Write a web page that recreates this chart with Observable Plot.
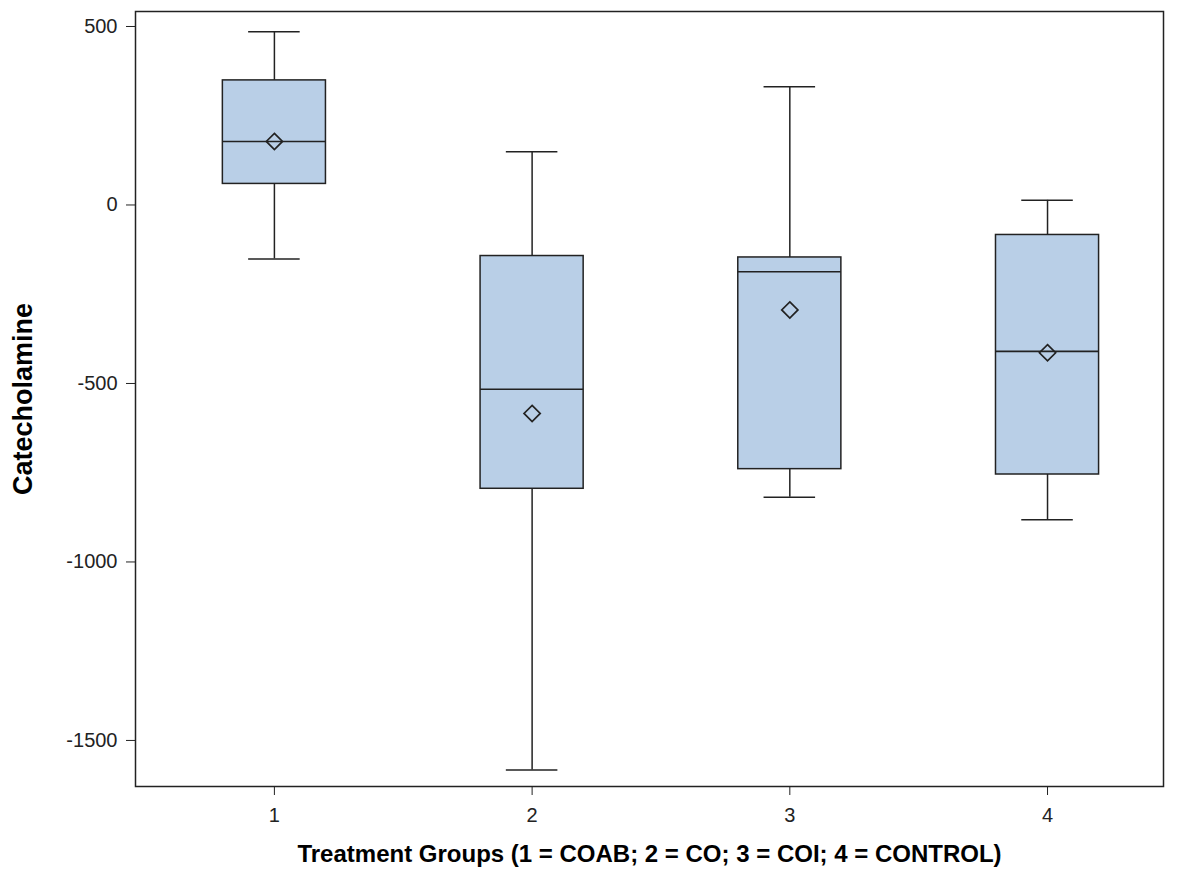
<!DOCTYPE html>
<html><head><meta charset="utf-8">
<script src="https://cdn.jsdelivr.net/npm/d3@7"></script>
<script src="https://cdn.jsdelivr.net/npm/@observablehq/plot@0.6"></script>
<style>body{margin:0;background:#fff}#chart svg{display:block}</style>
</head><body><div id="chart"></div>
<script>
const groups = [1, 2, 3, 4];
const whiskerHigh = [485, 149, 331, 13];
const q3 = [349, -143, -147, -84];
const median = [178, -516, -187, -410];
const mean = [178, -584, -294, -414];
const q1 = [59, -795, -740, -755];
const whiskerLow = [-151, -1583, -819, -882];
const yTicks = [500, 0, -500, -1000, -1500];
const xTicks = [1, 2, 3, 4];
const yLabel = "Catecholamine";
const xLabel = "Treatment Groups (1 = COAB; 2 = CO; 3 = COI; 4 = CONTROL)";

const data = groups.map((g, i) => ({
  g, hi: whiskerHigh[i], q3: q3[i], med: median[i], mean: mean[i], q1: q1[i], lo: whiskerLow[i]
}));

const boxHalf = 0.2, capHalf = 0.1;
const ink = "#222";
const font = "'Liberation Sans', Arial, sans-serif";

const chart = Plot.plot({
  width: 1177,
  height: 869,
  marginLeft: 135,
  marginRight: 14,
  marginTop: 11,
  marginBottom: 83,
  style: {fontFamily: font, background: "#fff", color: ink},
  x: {type: "linear", domain: [0.461, 4.45], ticks: xTicks, label: null},
  y: {domain: [-1629, 542], ticks: yTicks, label: null},
  marks: [
    Plot.ruleX(data, {x: "g", y1: "q3", y2: "hi", stroke: ink, strokeWidth: 1.5}),
    Plot.ruleX(data, {x: "g", y1: "lo", y2: "q1", stroke: ink, strokeWidth: 1.5}),
    Plot.ruleY(data, {y: "hi", x1: d => d.g - capHalf, x2: d => d.g + capHalf, stroke: ink, strokeWidth: 1.5}),
    Plot.ruleY(data, {y: "lo", x1: d => d.g - capHalf, x2: d => d.g + capHalf, stroke: ink, strokeWidth: 1.5}),
    Plot.rect(data, {x1: d => d.g - boxHalf, x2: d => d.g + boxHalf, y1: "q1", y2: "q3", fill: "#b9cfe7", stroke: ink, strokeWidth: 1.5}),
    Plot.ruleY(data, {y: "med", x1: d => d.g - boxHalf, x2: d => d.g + boxHalf, stroke: ink, strokeWidth: 1.6}),
    Plot.dot(data, {x: "g", y: "mean", symbol: "diamond2", r: 7.3, stroke: ink, strokeWidth: 1.7, fill: "none"}),
    Plot.frame({stroke: ink, strokeWidth: 1.5}),
    Plot.axisY({ticks: yTicks, tickFormat: d => String(d), tickSize: 9, tickPadding: 9, fontSize: 20, stroke: ink, label: null}),
    Plot.axisX({ticks: xTicks, tickFormat: d => String(d), tickSize: 9, tickPadding: 12, fontSize: 20, stroke: ink, label: null}),
    Plot.text([yLabel], {frameAnchor: "left", dx: -112, rotate: -90, fontSize: 27, fontWeight: "bold", fill: "#000", textAnchor: "middle", lineAnchor: "middle"}),
    Plot.text([xLabel], {frameAnchor: "bottom", dy: 68, fontSize: 24, fontWeight: "bold", fill: "#000", textAnchor: "middle", lineAnchor: "middle"})
  ]
});
document.getElementById("chart").appendChild(chart);
</script>
</body></html>
